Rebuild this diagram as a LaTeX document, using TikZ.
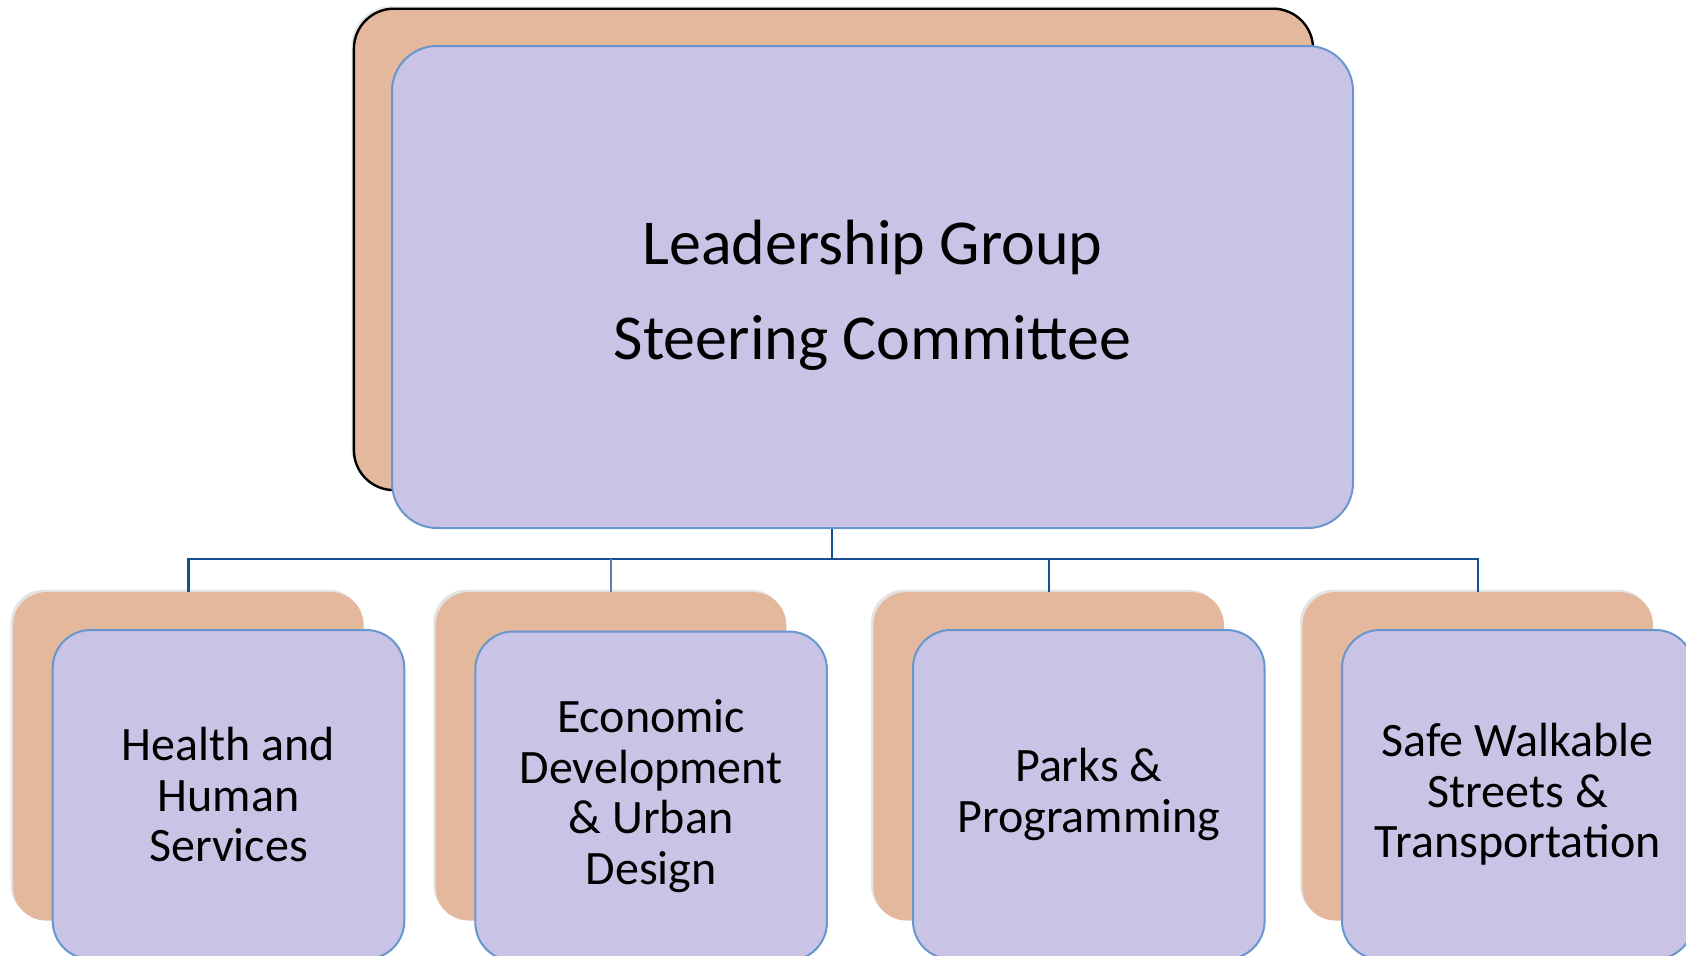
\documentclass[tikz,border=0pt]{standalone}
\usepackage{fontspec}
\setmainfont{Carlito}
\usetikzlibrary{shadows}
\definecolor{backfill}{RGB}{228,184,156}
\definecolor{frontfill}{RGB}{201,195,230}
\definecolor{frontline}{RGB}{103,151,204}
\definecolor{busline}{RGB}{22,80,145}
\definecolor{busthin}{RGB}{85,128,176}

\begin{document}
\begin{tikzpicture}[x=0.5pt,y=0.5pt,yscale=-1,xscale=1,
    backbox/.style={rectangle, rounded corners=16.5pt, fill=backfill, inner sep=0pt, anchor=north west,
      minimum width=175.3pt, minimum height=164.2pt,
      drop shadow={shadow xshift=-1.2pt, shadow yshift=1.2pt, opacity=0.22}},
    frontbox/.style={rectangle, rounded corners=19pt, fill=frontfill, draw=frontline, line width=1pt,
      inner sep=0pt, anchor=north west, minimum width=175.8pt, minimum height=164.5pt,
      align=center, font=\fontsize{24}{25.3}\selectfont},
    conn/.style={draw=busline, line width=1.2pt},
    connthin/.style={draw=busthin, line width=0.6pt}]
    \clip (0,0) rectangle (1686,955);

    %Shape: Leadership back
    \node [backbox, rounded corners=20pt, draw=black, line width=1.2pt,
      minimum width=479.6pt, minimum height=240.7pt] (lgback) at (352.7,7.5) {};
    %Shape: Leadership front
    \node [frontbox, rounded corners=22.5pt, minimum width=480.5pt, minimum height=241pt,
      font=\fontsize{32}{47.5}\selectfont, text height=77.5pt] (lgfront) at (391,45)
      {Leadership Group\\Steering Committee};

    %Shape: back boxes
    \node [backbox] (hhsback) at (12.7,591.7) {};
    \node [backbox] (edback) at (435.3,591.7) {};
    \node [backbox] (ppback) at (873,591.7) {};
    \node [backbox] (swback) at (1302,591.7) {};

    %Shape: front boxes
    \node [frontbox] (hhs) at (51.7,629) {Health and\\Human\\Services};
    \node [frontbox] (ed) at (474.3,630.5) {Economic\\Development\\\& Urban\\Design};
    \node [frontbox] (pp) at (912,629) {Parks \&\\Programming};
    \node [frontbox] (sw) at (1341,629) {Safe Walkable\\Streets \&\\Transportation};

    %Straight Lines
    \coordinate (bus) at (832,559);
    \draw [conn] (bus |- lgfront.south) -- (bus);
    \draw [conn] (hhsback.north) |- (bus) -| (swback.north);
    \draw [conn] (ppback.north |- bus) -- (ppback.north);
    \draw [connthin] (edback.north |- bus) -- (edback.north);
\end{tikzpicture}
\end{document}
